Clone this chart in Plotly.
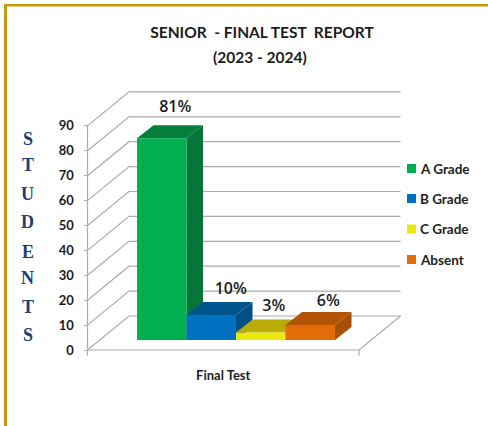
import plotly.graph_objects as go

# ---- data ----
category = "Final Test"
series_names = ["A Grade", "B Grade", "C Grade", "Absent"]
series_values = [81, 10, 3, 6]
value_labels = ["81%", "10%", "3%", "6%"]
y_ticks = [0, 10, 20, 30, 40, 50, 60, 70, 80, 90]
title_line_1 = "SENIOR  - FINAL TEST  REPORT"
title_line_2 = "(2023 - 2024)"
y_title_letters = list("STUDENTS")

# ---- styles ----
front_colors = ["#00B050", "#0070C0", "#E8E80E", "#E36C09"]
top_colors = ["#067F3E", "#00558F", "#B8AC05", "#B35306"]
side_colors = ["#067535", "#004F86", "#A89C05", "#A84F07"]
GRID = "#ABABAB"
FONT = "Lato"
INK = "#1c1c1c"

W, H = 488, 426
PX_PER_BAR = 49.5
PX_PER_UNIT = 2.49
BAR_LEFT_PX, BAR_BASE_PX = 137.0, 340.0
AXIS_BASE_PX = 350.0
AXIS_LEFT_PX, AXIS_RIGHT_PX = 87.5, 359.0
WALL_DX_PX, WALL_DY_PX = 41.5, 34.0
BAR_DX_PX, BAR_DY_PX = 16.5, 13.0


def xpx(px):
    return (px - BAR_LEFT_PX) / PX_PER_BAR


bar_dx = BAR_DX_PX / PX_PER_BAR
bar_dy = BAR_DY_PX / PX_PER_UNIT
wall_dy = WALL_DY_PX / PX_PER_UNIT

fig = go.Figure()


def line(xs, ys, width=1.2, color=GRID):
    fig.add_trace(go.Scatter(x=xs, y=ys, mode="lines",
                             line=dict(color=color, width=width),
                             hoverinfo="skip", showlegend=False))


# walls and floor, on the front-plane value axis (lower layer)
back_left = xpx(AXIS_LEFT_PX + WALL_DX_PX)
back_right = xpx(AXIS_RIGHT_PX + WALL_DX_PX)
for v in y_ticks:
    line([xpx(AXIS_LEFT_PX), back_left, back_right], [v, v + wall_dy, v + wall_dy])
line([xpx(AXIS_LEFT_PX), xpx(AXIS_LEFT_PX)], [-2.2, y_ticks[-1]])
line([xpx(AXIS_LEFT_PX), xpx(AXIS_RIGHT_PX), back_right], [0, 0, wall_dy])
line([xpx(AXIS_RIGHT_PX), xpx(AXIS_RIGHT_PX)], [0, -2.2])

# bars, back to front, on the overlaying bar-plane axis (upper layer)
for i, (name, v) in enumerate(zip(series_names, series_values)):
    l, r = float(i), float(i + 1)
    faces = [
        (side_colors[i], [r, r + bar_dx, r + bar_dx, r, r], [0, bar_dy, v + bar_dy, v, 0], False),
        (top_colors[i], [l, l + bar_dx, r + bar_dx, r, l], [v, v + bar_dy, v + bar_dy, v, v], False),
        (front_colors[i], [l, r, r, l, l], [0, 0, v, v, 0], True),
    ]
    for color, xs, ys, named in faces:
        fig.add_trace(go.Scatter(x=xs, y=ys, yaxis="y2", mode="lines", fill="toself", fillcolor=color,
                                 line=dict(width=0, color=color), name=name,
                                 showlegend=False, hoverinfo="name" if named else "skip"))

# value labels
label_dx_px = [13.5, 19.5, 13, 18]
label_dy_px = [30, 25, 26, 23]
fig.add_trace(go.Scatter(
    x=[i + 0.5 + label_dx_px[i] / PX_PER_BAR for i in range(4)],
    y=[v + label_dy_px[i] / PX_PER_UNIT for i, v in enumerate(series_values)],
    yaxis="y2", mode="text", text=value_labels, textposition="middle center",
    textfont=dict(family="Open Sans", size=16, color=INK, weight=600),
    hoverinfo="skip", showlegend=False))

annotations = [dict(text=title_line_2, x=260 / W, y=1 - 57 / H, xref="paper", yref="paper",
                    showarrow=False, xanchor="center", yanchor="middle",
                    font=dict(family=FONT, size=15.5, color=INK, weight="bold"))]

# legend
legend_y_px = [168.5, 198.5, 229, 259.5]
shapes = [
    dict(type="rect", xref="paper", yref="paper", x0=4 / W, x1=7 / W, y0=0, y1=1 - 4 / H,
         fillcolor="#C99A10", line=dict(width=0), layer="above"),
    dict(type="rect", xref="paper", yref="paper", x0=4 / W, x1=1, y0=1 - 6.5 / H, y1=1 - 4 / H,
         fillcolor="#C99A10", line=dict(width=0), layer="above"),
]
for name, color, py in zip(series_names, front_colors, legend_y_px):
    shapes.append(dict(type="rect", xref="paper", yref="paper", x0=407 / W, x1=416 / W,
                       y0=1 - (py + 4.5) / H, y1=1 - (py - 4.5) / H,
                       fillcolor=color, line=dict(width=0)))
    annotations.append(dict(text=name, x=417.5 / W, y=1 - py / H, xref="paper", yref="paper",
                            showarrow=False, xanchor="left", yanchor="middle",
                            font=dict(family=FONT, size=13.5, color="#222222", weight="bold")))

# vertical axis title, one letter per row
letter_y_px = [139, 165, 194, 222, 252, 278, 307, 335]
for ch, py in zip(y_title_letters, letter_y_px):
    annotations.append(dict(text=ch, x=27.5 / W, y=1 - py / H, xref="paper", yref="paper",
                            showarrow=False, xanchor="center", yanchor="middle",
                            font=dict(family="Liberation Serif", size=18, color="#1F3F77", weight="bold")))

fig.update_layout(
    width=W, height=H, margin=dict(l=0, r=0, t=0, b=0),
    paper_bgcolor="white", plot_bgcolor="white", showlegend=False,
    title=dict(text=title_line_1, x=262 / W, y=1 - 33 / H, xanchor="center", yanchor="middle",
               font=dict(family=FONT, size=15.5, color=INK, weight="bold")),
    annotations=annotations, shapes=shapes,
    xaxis=dict(range=[xpx(0), xpx(W)], tickmode="array",
               tickvals=[xpx((AXIS_LEFT_PX + AXIS_RIGHT_PX) / 2)], ticktext=[category],
               ticks="", showgrid=False, zeroline=False, showline=False,
               anchor="free", position=1 - AXIS_BASE_PX / H, ticklabelstandoff=16,
               tickfont=dict(family=FONT, size=13, color=INK, weight="bold")),
    yaxis=dict(range=[-(H - AXIS_BASE_PX) / PX_PER_UNIT, AXIS_BASE_PX / PX_PER_UNIT],
               anchor="free", position=AXIS_LEFT_PX / W, side="left",
               tickmode="array", tickvals=y_ticks, ticks="outside", ticklen=4,
               tickcolor=GRID, showgrid=False, zeroline=False, showline=False,
               ticklabelstandoff=7, fixedrange=True,
               tickfont=dict(family=FONT, size=13, color=INK, weight="bold")),
    yaxis2=dict(range=[-(H - BAR_BASE_PX) / PX_PER_UNIT, BAR_BASE_PX / PX_PER_UNIT],
                overlaying="y", visible=False, fixedrange=True),
)

fig.write_html("out.html", config=dict(displayModeBar=False),
               post_script="document.body.style.margin='0';document.body.style.overflow='hidden';")
